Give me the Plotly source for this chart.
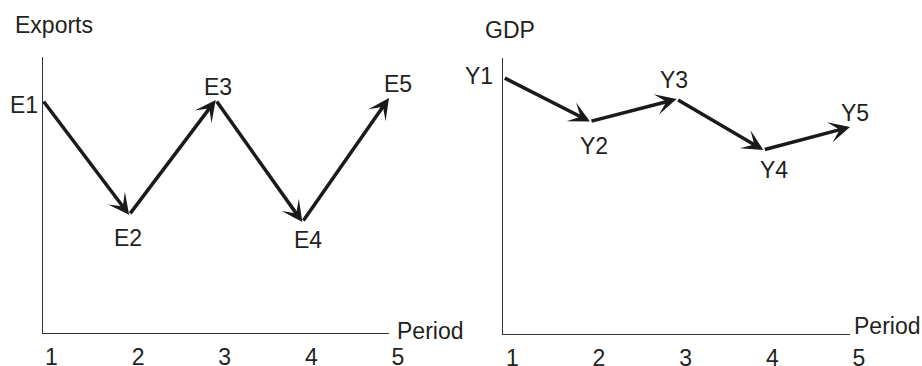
import plotly.graph_objects as go

# ---- data ----
periods = [1, 2, 3, 4, 5]
tick_labels = ["1", "2", "3", "4", "5"]
export_values = [8.44, 4.28, 8.44, 4.02, 8.51]
export_labels = ["E1", "E2", "E3", "E4", "E5"]
gdp_values = [9.30, 7.70, 8.51, 6.67, 7.50]
gdp_labels = ["Y1", "Y2", "Y3", "Y4", "Y5"]

# ---- style / layout constants ----
W, H = 922, 366
FONT = "Liberation Sans, Arial, Helvetica, sans-serif"
TXT = "#231f20"
ARROW = "#1a1a1a"
AXIS = "#333333"
FS = 23

export_label_offsets = [(-19, -5), (-1, -23), (2, 13), (6, -18), (9, 14)]
gdp_label_offsets = [(-24, 1), (4, -25), (-3, 19), (11, -20), (5, 14)]


def px_x(p):
    return p / W


def px_y(p):
    return (H - p) / H


fig = go.Figure()

# invisible anchor traces so the axes are drawn from the data
fig.add_trace(go.Scatter(x=periods, y=export_values, mode="markers",
                         marker=dict(opacity=0), hoverinfo="skip",
                         showlegend=False, xaxis="x", yaxis="y"))
fig.add_trace(go.Scatter(x=periods, y=gdp_values, mode="markers",
                         marker=dict(opacity=0), hoverinfo="skip",
                         showlegend=False, xaxis="x2", yaxis="y2"))

annotations = []


def add_panel(values, labels, offsets, xr, yr):
    for i in range(1, len(periods)):
        annotations.append(dict(
            x=periods[i], y=values[i], ax=periods[i - 1], ay=values[i - 1],
            xref=xr, yref=yr, axref=xr, ayref=yr, text="", showarrow=True,
            arrowhead=3, arrowsize=1.0, arrowwidth=3.5, arrowcolor=ARROW,
            standoff=0, startstandoff=0))
    for p, v, lab, (dx, dy) in zip(periods, values, labels, offsets):
        annotations.append(dict(
            x=p, y=v, xref=xr, yref=yr, text=lab, showarrow=False,
            xshift=dx, yshift=dy, xanchor="center", yanchor="middle",
            font=dict(family=FONT, size=FS, color=TXT)))


add_panel(export_values, export_labels, export_label_offsets, "x", "y")
add_panel(gdp_values, gdp_labels, gdp_label_offsets, "x2", "y2")

# axis names
for txt, x, y, anchor in [("Exports", 13, 25, "left"), ("GDP", 483, 30, "left"),
                          ("Period", 395, 331, "left"), ("Period", 852, 326, "left")]:
    annotations.append(dict(
        x=px_x(x), y=px_y(y), xref="paper", yref="paper", text=txt,
        showarrow=False, xanchor=anchor, yanchor="middle",
        font=dict(family=FONT, size=FS, color=TXT)))

xcommon = dict(showline=True, linecolor=AXIS, linewidth=1, showgrid=False,
               zeroline=False, tickmode="array", tickvals=periods,
               ticktext=tick_labels, ticks="", ticklabelshift=9,
               ticklabelstandoff=3, automargin=False,
               tickfont=dict(family=FONT, size=FS, color=TXT),
               fixedrange=True)
ycommon = dict(showline=True, linecolor=AXIS, linewidth=1, showgrid=False,
               zeroline=False, showticklabels=False, ticks="",
               automargin=False, range=[0, 10], fixedrange=True)

fig.update_layout(
    template="none",
    width=W, height=H,
    margin=dict(l=0, r=0, t=0, b=0, pad=0),
    paper_bgcolor="white", plot_bgcolor="white",
    showlegend=False,
    xaxis=dict(domain=[px_x(42.5), px_x(389)], range=[1, 5],
               anchor="y", **xcommon),
    yaxis=dict(domain=[px_y(333), px_y(57)], anchor="x", **ycommon),
    xaxis2=dict(domain=[px_x(503.3), px_x(850)], range=[1, 5],
                anchor="y2", **xcommon),
    yaxis2=dict(domain=[px_y(334), px_y(58)], anchor="x2", **ycommon),
    annotations=annotations,
)

fig.write_html(
    "out.html",
    config={"displayModeBar": False},
    post_script="document.body.style.margin='0';document.body.style.overflow='hidden';",
)
